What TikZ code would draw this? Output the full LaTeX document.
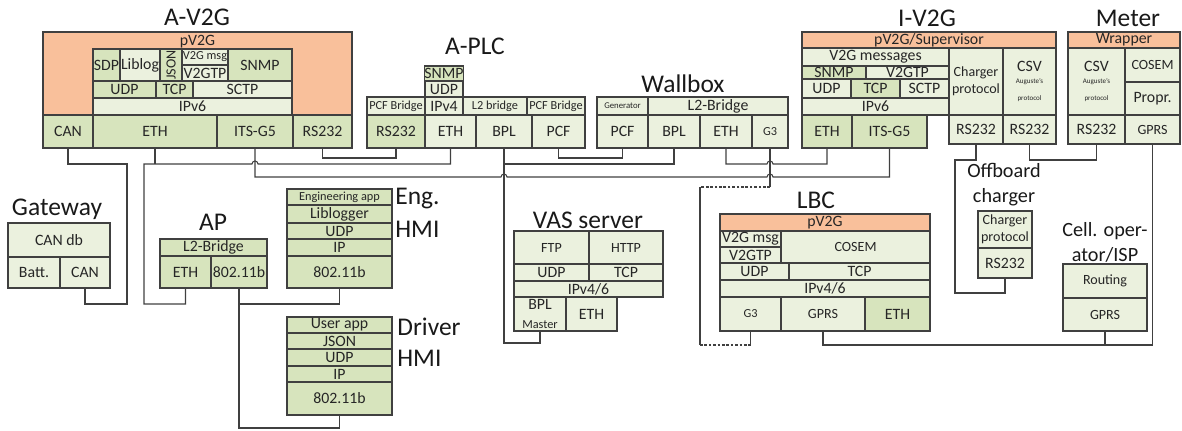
\documentclass[tikz,border=0pt]{standalone}
\usepackage{fontspec}
\setmainfont{Carlito}
\usepackage{graphicx}
\usetikzlibrary{positioning}
\definecolor{GA}{HTML}{D7E4BD}
\definecolor{GB}{HTML}{EBF1DE}
\definecolor{OA}{HTML}{F9C09B}
\definecolor{LN}{HTML}{404040}
\newcommand{\sza}{\fontsize{9}{10.8}\selectfont}
\newcommand{\szb}{\fontsize{8}{9.6}\selectfont}
\newcommand{\szc}{\fontsize{7}{8.4}\selectfont}
\newcommand{\szd}{\fontsize{5}{6}\selectfont}
\newcommand{\sze}{\fontsize{4}{5}\selectfont}
\newcommand{\szT}{\fontsize{14.5}{17}\selectfont}
\newcommand{\szS}{\fontsize{11.5}{14.2}\selectfont}
% one protocol cell: name, x1, y1, x2, y2 (pixel grid, y downwards), options, text
\newcommand{\pcell}[7]{%
  \node[cellbox,#6,minimum width={(#4-#2)*0.02cm},minimum height={(#5-#3)*0.02cm}]
    (#1) at ({(#2+#4)/2},{(#3+#5)/2}) {#7};}

\begin{document}
\begin{tikzpicture}[x=0.02cm,y=-0.02cm,
    cellbox/.style={draw=LN,line width=0.7pt,inner sep=0pt,outer sep=0pt,
      align=center,font=\sza,text=black!85},
    dk/.style={fill=GA},
    lt/.style={fill=GB},
    og/.style={fill=OA},
    devname/.style={font=\szT,text=black!90,inner sep=0pt},
    devsub/.style={font=\szS,text=black!90,inner sep=0pt,align=center},
    toplabel/.style={font=\sza,text=black!85,inner sep=0pt},
    wire/.style={draw=LN,line width=0.6pt},
    jump/.style={insert path={arc[start angle=180,end angle=0,radius=0.06cm]}}]
  \useasboundingbox (0,0) rectangle (1182,430);

  % ---- A-V2G
  \node[devname] (tAV) at (197,17) {A-V2G};
  \pcell{avTop}{43}{32}{352}{115}{og}{}
  \node[toplabel,below=1.5pt of avTop.north] (avTopL) {pV2G};
  \pcell{avSDP}{93}{49}{120}{81}{dk}{SDP}
  \pcell{avLib}{120}{49}{160}{81}{lt}{Liblog}
  \pcell{avJSON}{160}{49}{182}{81}{dk,font=\szb}{\rotatebox{90}{JSON}}
  \pcell{avMsg}{182}{49}{228}{65}{lt,font=\szc}{V2G msg}
  \pcell{avTP}{182}{65}{228}{81}{lt}{V2GTP}
  \pcell{avSNMP}{228}{49}{292}{81}{dk}{SNMP}
  \pcell{avUDP}{93}{81}{156}{98}{dk}{UDP}
  \pcell{avTCP}{156}{81}{193}{98}{dk}{TCP}
  \pcell{avSCTP}{193}{81}{292}{98}{lt}{SCTP}
  \pcell{avIP}{93}{98}{292}{115}{lt}{IPv6}
  \pcell{avCAN}{43}{115}{93}{148}{dk}{CAN}
  \pcell{avETH}{93}{115}{217}{148}{dk}{ETH}
  \pcell{avITS}{217}{115}{293}{148}{dk}{ITS-G5}
  \pcell{avRS}{293}{115}{352}{148}{dk}{RS232}

  % ---- A-PLC
  \node[devname] (tPL) at (475,46) {A-PLC};
  \pcell{plSNMP}{425}{66}{463}{81}{dk}{SNMP}
  \pcell{plUDP}{425}{81}{463}{97}{lt}{UDP}
  \pcell{plBrA}{367}{97}{425}{115}{lt,font=\szc}{PCF Bridge}
  \pcell{plIP}{425}{97}{463}{115}{lt}{IPv4}
  \pcell{plL2}{463}{97}{527}{115}{lt,font=\szc}{L2 bridge}
  \pcell{plBrB}{527}{97}{585}{115}{lt,font=\szc}{PCF Bridge}
  \pcell{plRS}{367}{115}{425}{148}{dk}{RS232}
  \pcell{plETH}{425}{115}{476}{148}{lt}{ETH}
  \pcell{plBPL}{476}{115}{532}{148}{lt}{BPL}
  \pcell{plPCF}{532}{115}{585}{148}{lt}{PCF}

  % ---- Wallbox
  \node[devname] (tWB) at (683,84) {Wallbox};
  \pcell{wbGen}{597}{97}{648}{115}{lt,font=\szd}{Generator}
  \pcell{wbL2}{648}{97}{788}{115}{lt}{L2-Bridge}
  \pcell{wbPCF}{597}{115}{648}{148}{lt}{PCF}
  \pcell{wbBPL}{648}{115}{700}{148}{lt}{BPL}
  \pcell{wbETH}{700}{115}{752}{148}{lt}{ETH}
  \pcell{wbG3}{752}{115}{788}{148}{lt,font=\szc}{G3}

  % ---- I-V2G
  \node[devname] (tIV) at (927,18) {I-V2G};
  \pcell{ivTop}{802}{32}{1056}{48}{og}{pV2G/Supervisor}
  \pcell{ivMsg}{802}{48}{949}{66}{lt}{V2G messages}
  \pcell{ivSNMP}{802}{66}{866}{79}{dk}{SNMP}
  \pcell{ivTP}{866}{66}{949}{79}{lt}{V2GTP}
  \pcell{ivUDP}{802}{79}{851}{98}{lt}{UDP}
  \pcell{ivTCP}{851}{79}{900}{98}{dk}{TCP}
  \pcell{ivSCTP}{900}{79}{949}{98}{lt}{SCTP}
  \pcell{ivIP}{802}{98}{949}{115}{lt}{IPv6}
  \pcell{ivETH}{802}{115}{852}{148}{dk}{ETH}
  \pcell{ivITS}{852}{115}{927}{148}{dk}{ITS-G5}
  \pcell{ivCh}{949}{48}{1003}{115}{lt,font=\szb}{Charger\\protocol}
  \pcell{ivCSV}{1003}{48}{1056}{115}{lt}{CSV\\[-4pt]{\sze Auguste's}\\[-1.2pt]{\sze protocol}}
  \pcell{ivChRS}{949}{115}{1003}{144}{lt}{RS232}
  \pcell{ivCsvRS}{1003}{115}{1056}{144}{lt}{RS232}

  % ---- Meter
  \node[devname] (tMT) at (1128,18) {Meter};
  \pcell{mtTop}{1068}{32}{1180}{48}{og}{Wrapper}
  \pcell{mtCSV}{1068}{48}{1125}{115}{lt}{CSV\\[-4pt]{\sze Auguste's}\\[-1.2pt]{\sze protocol}}
  \pcell{mtCOS}{1125}{48}{1180}{82}{lt,font=\szb}{COSEM}
  \pcell{mtPro}{1125}{82}{1180}{115}{lt}{Propr.}
  \pcell{mtRS}{1068}{115}{1125}{144}{lt}{RS232}
  \pcell{mtGPRS}{1125}{115}{1180}{144}{lt,font=\szb}{GPRS}

  % ---- Gateway
  \node[devname] (tGW) at (57,209) {Gateway};
  \pcell{gwDB}{8}{223}{110}{257}{lt}{CAN db}
  \pcell{gwBat}{8}{257}{60}{288}{lt}{Batt.}
  \pcell{gwCAN}{60}{257}{110}{288}{lt}{CAN}

  % ---- AP
  \node[devname] (tAP) at (213,222) {AP};
  \pcell{apL2}{160}{239}{267}{256}{dk}{L2-Bridge}
  \pcell{apETH}{160}{256}{211}{288}{dk}{ETH}
  \pcell{ap11}{211}{256}{267}{288}{dk}{802.11b}

  % ---- Eng. HMI
  \pcell{engApp}{287}{189}{392}{205}{dk,font=\szc}{Engineering app}
  \pcell{engLib}{287}{205}{392}{223}{dk}{Liblogger}
  \pcell{engUDP}{287}{223}{392}{239}{dk}{UDP}
  \pcell{engIP}{287}{239}{392}{256}{dk}{IP}
  \pcell{engPhy}{287}{256}{392}{288}{dk}{802.11b}
  \node[devname,anchor=west] (tEng) at (395,199) {Eng.};
  \node[devname,anchor=west] (tEngB) at (395,229) {HMI};

  % ---- Driver HMI
  \pcell{drApp}{287}{317}{392}{333}{dk}{User app}
  \pcell{drJSON}{287}{333}{392}{349}{dk}{JSON}
  \pcell{drUDP}{287}{349}{392}{366}{dk}{UDP}
  \pcell{drIP}{287}{366}{392}{382}{dk}{IP}
  \pcell{drPhy}{287}{382}{392}{415}{dk}{802.11b}
  \node[devname,anchor=west] (tDr) at (397,327) {Driver};
  \node[devname,anchor=west] (tDrB) at (397,358) {HMI};

  % ---- VAS server
  \node[devname] (tVS) at (588,220) {VAS server};
  \pcell{vsFTP}{514}{231}{589}{264}{lt,font=\szb}{FTP}
  \pcell{vsHTTP}{589}{231}{663}{264}{lt,font=\szb}{HTTP}
  \pcell{vsUDP}{514}{264}{589}{281}{lt}{UDP}
  \pcell{vsTCP}{589}{264}{663}{281}{lt}{TCP}
  \pcell{vsIP}{514}{281}{663}{297}{lt}{IPv4/6}
  \pcell{vsBPL}{514}{297}{566}{331}{lt}{BPL\\{\szc Master}}
  \pcell{vsETH}{566}{297}{617}{331}{lt}{ETH}

  % ---- LBC
  \node[devname] (tLB) at (816,200) {LBC};
  \pcell{lbTop}{720}{214}{930}{231}{og}{pV2G}
  \pcell{lbMsg}{720}{231}{781}{247}{lt}{V2G msg}
  \pcell{lbTP}{720}{247}{781}{263}{lt}{V2GTP}
  \pcell{lbCOS}{781}{231}{930}{263}{lt,font=\szb}{COSEM}
  \pcell{lbUDP}{720}{263}{789}{280}{lt}{UDP}
  \pcell{lbTCP}{789}{263}{930}{280}{lt}{TCP}
  \pcell{lbIP}{720}{280}{930}{297}{lt}{IPv4/6}
  \pcell{lbG3}{720}{297}{781}{331}{lt,font=\szc}{G3}
  \pcell{lbGPRS}{781}{297}{865}{331}{lt,font=\szb}{GPRS}
  \pcell{lbETH}{865}{297}{930}{331}{dk}{ETH}

  % ---- Offboard charger
  \node[devsub] (tOB) at (1004,185) {Offboard\\charger};
  \pcell{obCh}{978}{211}{1032}{248}{lt,font=\szb}{Charger\\protocol}
  \pcell{obRS}{978}{248}{1032}{278}{lt}{RS232}

  % ---- Cell. operator / ISP
  \node[devsub] (tCO) at (1105,242) {Cell. oper-\\ator/ISP};
  \pcell{coRt}{1063}{264}{1147}{298}{lt,font=\szb}{Routing}
  \pcell{coGPRS}{1063}{298}{1147}{331}{lt,font=\szb}{GPRS}

  % ---- links
  \coordinate (g3a) at (wbG3.south |- 0,187);
  \coordinate (g3b) at (700,187);
  \coordinate (g3c) at (700,345);
  \coordinate (g3d) at (lbG3.south |- 0,345);

  \draw[wire] (avCAN.south) |- (127,164) -- (127,304) -| (gwCAN.south);
  \draw[wire] (apETH.south) |- (144,304) -- (144,164) -- (252,164) [jump]
    -- (plETH.south |- 0,164) -- (plETH.south);
  \draw[wire] (avETH.south) -- (avETH.south |- 0,164);
  \draw[wire] (avITS.south) -- (avITS.south |- 0,177) -- (501,177) [jump]
    -- (767,177) [jump] -| (ivITS.south);
  \draw[wire] (avRS.south) -- ++(0,10) -| (plRS.south);
  \draw[wire] (plPCF.south) -- ++(0,10) -| (wbPCF.south);
  \draw[wire] (plBPL.south) |- (vsBPL.south |- 0,343) -- (vsBPL.south);
  \draw[wire] (plBPL.south |- 0,164) -| (wbBPL.south);
  \draw[wire] (wbETH.south) |- (767,164) [jump] -| (ivETH.south);
  \draw[wire] (wbG3.south) -- (g3a);
  \draw[wire,dash pattern=on 1.5pt off 1pt] (g3a) -- (g3b);
  \draw[wire] (g3b) -- (g3c);
  \draw[wire,dash pattern=on 1.5pt off 1pt] (g3c) -- (g3d);
  \draw[wire] (g3d) -- (lbG3.south);
  \draw[wire] (ivChRS.south) -- ++(0,16) -| (955,293) -| (obRS.south);
  \draw[wire] (ivCsvRS.south) -- ++(0,16) -| (mtRS.south);
  \draw[wire] (lbGPRS.south) |- (mtGPRS.south |- 0,345) -- (mtGPRS.south);
  \draw[wire] (coGPRS.south) -- (coGPRS.south |- 0,345);
  \draw[wire] (ap11.south) |- (drPhy.south |- 0,428) -- (drPhy.south);
  \draw[wire] (ap11.south |- 0,304) -| (engPhy.south);
\end{tikzpicture}
\end{document}
